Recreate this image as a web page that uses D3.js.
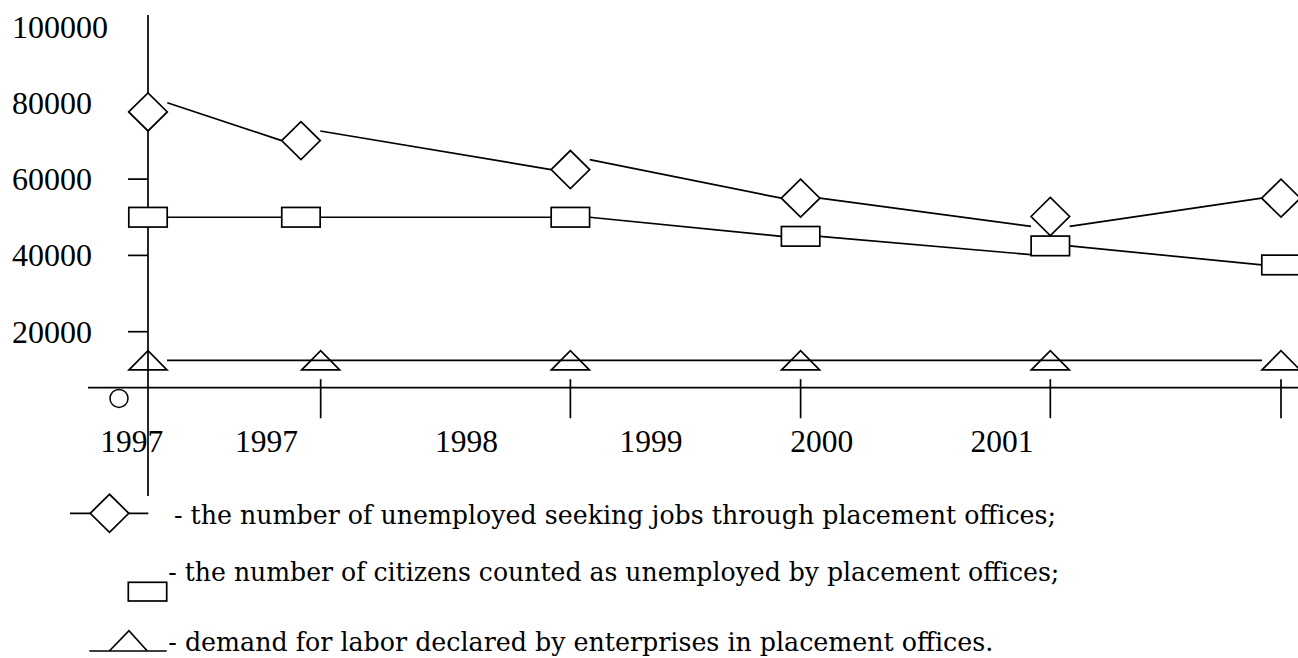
<!DOCTYPE html>
<html>
<head>
<meta charset="utf-8">
<script src="https://cdn.jsdelivr.net/npm/d3@7"></script>
<style>
  html, body { margin: 0; padding: 0; background: #fff; }
  svg { display: block; }
</style>
</head>
<body>
<svg id="chart" width="1298" height="658"></svg>
<script>
// ---------- data ----------
const yTickValues = [20000, 40000, 60000];
const yLabelValues = [100000, 80000, 60000, 40000, 20000];

const markerX = [1997.0, 1997.675, 1998.864, 1999.880, 2000.982, 2002.0];
const triangleX = [1997.0, 1997.762, 1998.864, 1999.880, 2000.982, 2002.0];

const unemployedSeeking = [77600, 70100, 62500, 55000, 50200, 55000];
const seekingLineFrom   = [80000, 72600, 65100, 55000, 47600];
const seekingLineTo     = [70100, 62500, 55000, 47600, 55000];

const citizensCounted   = [50000, 50000, 50000, 45000, 42500, 37500];
const countedLineFrom   = [50000, 50000, 50000, 45000, 42500];
const countedLineTo     = [50000, 50000, 45000, 40200, 37500];

const laborDemand       = [12500, 12500, 12500, 12500, 12500, 12500];

const xTickPos   = [1997.762, 1998.864, 1999.880, 2000.982, 2002.0];
const xLabels    = ["1997", "1997", "1998", "1999", "2000", "2001"];
const xLabelPos  = [1996.928, 1997.523, 1998.406, 1999.220, 1999.973, 2000.769];

const legendTexts = [
  "- the number of unemployed seeking jobs through placement offices;",
  "- the number of citizens counted as unemployed by placement offices;",
  "- demand for labor declared by enterprises in placement offices."
];

// ---------- scales ----------
const svg = d3.select("#chart");
const x = d3.scaleLinear().domain([1997, 2002]).range([148, 1281]);
const y = d3.scaleLinear().domain([0, 100000]).range([408, 26.5]);

const SW = 1.7;
const axisFont = "'Liberation Serif', 'Times New Roman', serif";
const legendFont = "'DejaVu Serif', Georgia, serif";

const dW = 19.3, dH = 19;
const sW = 19.2, sH = 9.8;
const tW = 19, tH = 9.6;

// ---------- axes ----------
const yAxisX = x(1997);
svg.append("line").attr("x1", yAxisX).attr("x2", yAxisX)
  .attr("y1", 15).attr("y2", 496)
  .attr("stroke", "#000").attr("stroke-width", SW);

svg.selectAll(".ytick").data(yTickValues).enter().append("line")
  .attr("x1", yAxisX - 20).attr("x2", yAxisX)
  .attr("y1", d => y(d)).attr("y2", d => y(d))
  .attr("stroke", "#000").attr("stroke-width", SW);

svg.selectAll(".ylab").data(yLabelValues).enter().append("text")
  .attr("x", 12).attr("y", d => y(d) + 11)
  .attr("font-family", axisFont).attr("font-size", 32)
  .attr("fill", "#000").text(d => d);

const xAxisY = 387.7;
svg.append("line").attr("x1", 88).attr("x2", 1298)
  .attr("y1", xAxisY).attr("y2", xAxisY)
  .attr("stroke", "#000").attr("stroke-width", SW);

svg.selectAll(".xtick").data(xTickPos).enter().append("line")
  .attr("x1", d => x(d)).attr("x2", d => x(d))
  .attr("y1", xAxisY - 8.5).attr("y2", xAxisY + 30.5)
  .attr("stroke", "#000").attr("stroke-width", SW);

svg.selectAll(".xlab").data(xLabels).enter().append("text")
  .attr("x", (d, i) => x(xLabelPos[i])).attr("y", 451.7)
  .attr("text-anchor", "middle")
  .attr("font-family", axisFont).attr("font-size", 31.5)
  .attr("fill", "#000").text(d => d);

// origin circle
svg.append("circle").attr("cx", 119).attr("cy", 398.4).attr("r", 9)
  .attr("fill", "none").attr("stroke", "#000").attr("stroke-width", 1.5);

// ---------- shapes ----------
const diamondPath = (cx, cy) => `M${cx - dW},${cy}L${cx},${cy - dH}L${cx + dW},${cy}L${cx},${cy + dH}Z`;
const trianglePath = (cx, cy) => `M${cx - tW},${cy + tH}L${cx},${cy - tH}L${cx + tW},${cy + tH}Z`;

// labor demand line + triangles
svg.append("line")
  .attr("x1", x(triangleX[0]) + tW).attr("x2", x(triangleX[triangleX.length - 1]) - tW)
  .attr("y1", y(laborDemand[0])).attr("y2", y(laborDemand[laborDemand.length - 1]))
  .attr("stroke", "#000").attr("stroke-width", SW);
svg.selectAll(".tri").data(laborDemand).enter().append("path")
  .attr("d", (d, i) => trianglePath(x(triangleX[i]), y(d)))
  .attr("fill", "none").attr("stroke", "#000").attr("stroke-width", SW);

// citizens counted: lines + squares
svg.selectAll(".sqline").data(countedLineFrom).enter().append("line")
  .attr("x1", (d, i) => x(markerX[i]) + sW).attr("y1", d => y(d))
  .attr("x2", (d, i) => x(markerX[i + 1]) - sW).attr("y2", (d, i) => y(countedLineTo[i]))
  .attr("stroke", "#000").attr("stroke-width", SW);
svg.selectAll(".sq").data(citizensCounted).enter().append("rect")
  .attr("x", (d, i) => x(markerX[i]) - sW).attr("y", d => y(d) - sH)
  .attr("width", 2 * sW).attr("height", 2 * sH)
  .attr("fill", "#fff").attr("stroke", "#000").attr("stroke-width", SW);

// unemployed seeking: lines + diamonds
svg.selectAll(".dline").data(seekingLineFrom).enter().append("line")
  .attr("x1", (d, i) => x(markerX[i]) + dW).attr("y1", d => y(d))
  .attr("x2", (d, i) => x(markerX[i + 1]) - dW).attr("y2", (d, i) => y(seekingLineTo[i]))
  .attr("stroke", "#000").attr("stroke-width", SW);
svg.selectAll(".dia").data(unemployedSeeking).enter().append("path")
  .attr("d", (d, i) => diamondPath(x(markerX[i]), y(d)))
  .attr("fill", "#fff").attr("stroke", "#000").attr("stroke-width", SW);

// ---------- legend ----------
const lg = svg.append("g");
lg.append("line").attr("x1", 70).attr("x2", 148.3).attr("y1", 513.3).attr("y2", 513.3)
  .attr("stroke", "#000").attr("stroke-width", SW);
lg.append("path").attr("d", diamondPath(109.5, 513.3))
  .attr("fill", "#fff").attr("stroke", "#000").attr("stroke-width", SW);
lg.append("rect").attr("x", 128.3).attr("y", 582.3).attr("width", 38.4).attr("height", 18.7)
  .attr("fill", "#fff").attr("stroke", "#000").attr("stroke-width", SW);
lg.append("line").attr("x1", 89.3).attr("x2", 166.7).attr("y1", 651).attr("y2", 651)
  .attr("stroke", "#000").attr("stroke-width", SW);
lg.append("path").attr("d", `M109.3,651L129,630.7L147.3,651`)
  .attr("fill", "none").attr("stroke", "#000").attr("stroke-width", SW);

const legendPos = [
  { x: 174, y: 523.8, w: 882 },
  { x: 168.3, y: 581, w: 891 },
  { x: 168.3, y: 650.5, w: 825 }
];
lg.selectAll(".ltxt").data(legendTexts).enter().append("text")
  .attr("x", (d, i) => legendPos[i].x).attr("y", (d, i) => legendPos[i].y)
  .attr("textLength", (d, i) => legendPos[i].w)
  .attr("lengthAdjust", "spacingAndGlyphs")
  .attr("font-family", legendFont).attr("font-size", 26)
  .attr("fill", "#000").text(d => d);
</script>
</body>
</html>
